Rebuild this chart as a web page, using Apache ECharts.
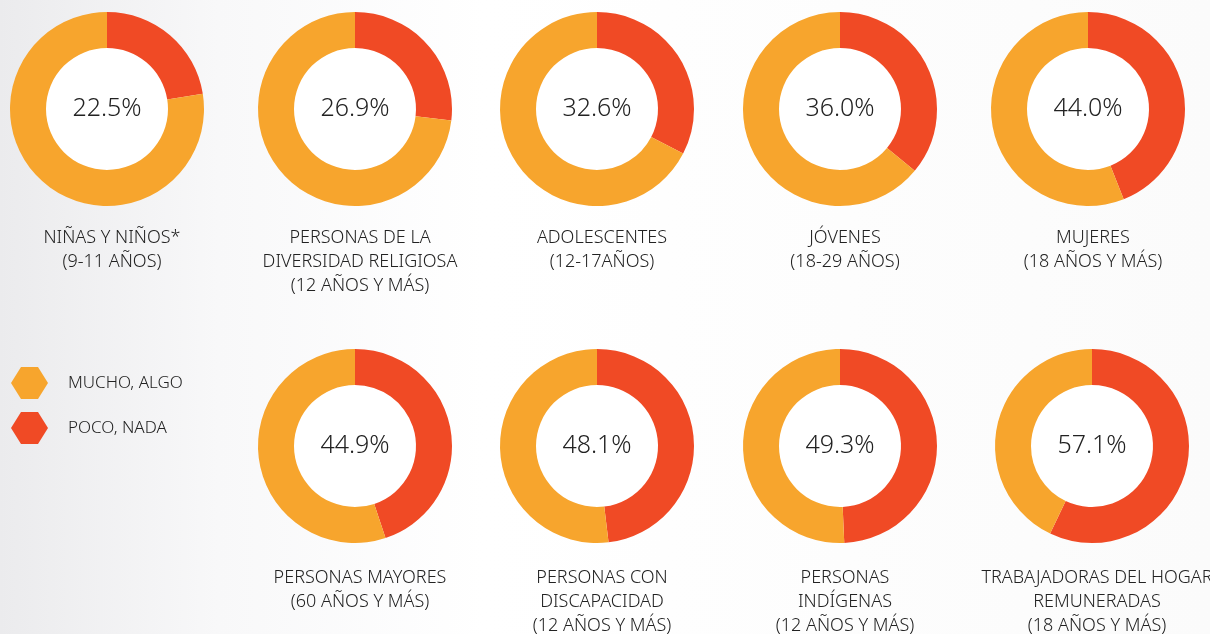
<!DOCTYPE html>
<html>
<head>
<meta charset="utf-8">
<script src="https://cdn.jsdelivr.net/npm/echarts@6/dist/echarts.min.js"></script>
<style>
  html, body { margin: 0; padding: 0; }
  body { background: linear-gradient(to right, #ebebed 0%, #f8f8f9 18%, #ffffff 40%, #fbfbfb 100%); }
  #chart { width: 1210px; height: 634px; }
</style>
</head>
<body>
<div id="chart"></div>
<script>
// porcentaje "POCO, NADA" por grupo
const groups = [
  'NIÑAS Y NIÑOS*\n(9-11 AÑOS)',
  'PERSONAS DE LA\nDIVERSIDAD RELIGIOSA\n(12 AÑOS Y MÁS)',
  'ADOLESCENTES\n(12-17AÑOS)',
  'JÓVENES\n(18-29 AÑOS)',
  'MUJERES\n(18 AÑOS Y MÁS)',
  'PERSONAS MAYORES\n(60 AÑOS Y MÁS)',
  'PERSONAS CON\nDISCAPACIDAD\n(12 AÑOS Y MÁS)',
  'PERSONAS\nINDÍGENAS\n(12 AÑOS Y MÁS)',
  'TRABAJADORAS DEL HOGAR\nREMUNERADAS\n(18 AÑOS Y MÁS)'
]
const pocoNada = [22.5, 26.9, 32.6, 36.0, 44.0, 44.9, 48.1, 49.3, 57.1]
const legendNames = ['MUCHO, ALGO', 'POCO, NADA']

const ORANGE = '#f7a52d'
const RED = '#f04a25'
const FONT = '"Noto Sans", sans-serif'

// layout
const centers = [
  [107, 109], [355, 109], [597, 109], [840, 109], [1088, 109],
  [355, 446], [597, 446], [840, 446], [1092, 446]
]
const hexagon = 'path://M10,0 L27,0 L37,16 L27,32 L10,32 L0,16 Z'

const myChart = echarts.init(document.getElementById('chart'), null, {renderer: 'canvas'})

const series = []
pocoNada.forEach((p, i) => {
  // white hole in the middle of each donut
  series.push({
    type: 'pie',
    silent: true,
    center: centers[i],
    radius: [0, 62],
    z: 1,
    label: { show: false },
    labelLine: { show: false },
    data: [{ name: '_bg', value: 1, itemStyle: { color: '#fff' } }]
  })
  series.push({
    type: 'pie',
    silent: true,
    center: centers[i],
    radius: [61, 97],
    startAngle: 90,
    clockwise: true,
    z: 2,
    avoidLabelOverlap: false,
    labelLine: { show: false },
    data: [
      {
        name: legendNames[1],
        value: p,
        itemStyle: { color: RED },
        label: {
          show: true,
          position: 'center',
          formatter: () => p.toFixed(1) + '%',
          fontFamily: FONT,
          fontWeight: 300,
          fontSize: 25,
          color: '#222'
        }
      },
      {
        name: legendNames[0],
        value: +(100 - p).toFixed(1),
        itemStyle: { color: ORANGE },
        label: { show: false }
      }
    ]
  })
})

const titles = groups.map((g, i) => ({
  text: g,
  left: centers[i][0],
  top: i < 5 ? 221 : 561,
  textAlign: 'center',
  textStyle: {
    fontFamily: FONT,
    fontWeight: 300,
    fontSize: 18,
    lineHeight: 24,
    color: '#222'
  }
}))

myChart.setOption({
  animation: false,
  title: titles,
  legend: {
    orient: 'vertical',
    left: 11,
    top: 367,
    padding: 0,
    itemWidth: 37,
    itemHeight: 32,
    itemGap: 13,
    symbolKeepAspect: false,
    selectedMode: false,
    data: [
      { name: legendNames[0], icon: hexagon, itemStyle: { color: ORANGE } },
      { name: legendNames[1], icon: hexagon, itemStyle: { color: RED } }
    ],
    textStyle: {
      fontFamily: FONT,
      fontWeight: 300,
      fontSize: 17,
      color: '#222',
      padding: [0, 0, 0, 15]
    }
  },
  series: series
})
</script>
</body>
</html>
